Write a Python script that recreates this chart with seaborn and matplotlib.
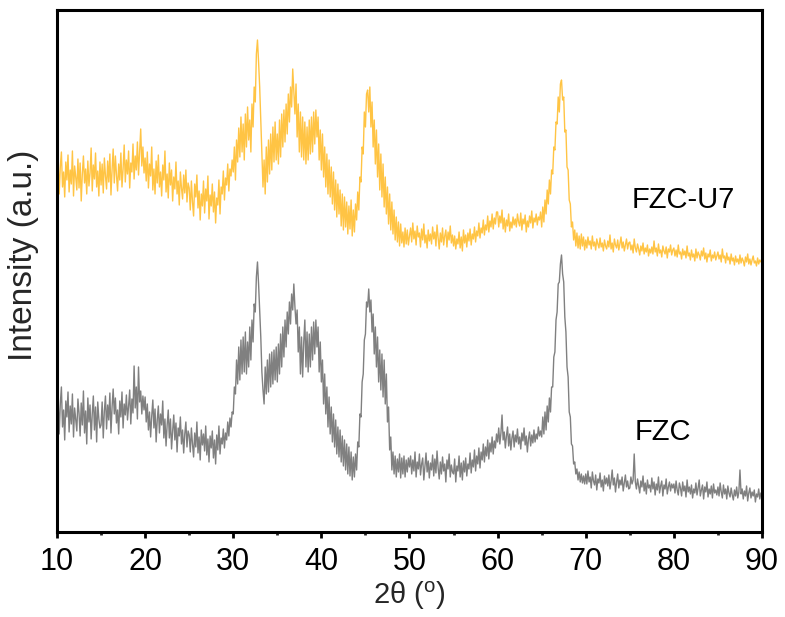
import numpy as np
import pandas as pd
import matplotlib
matplotlib.use("Agg")
import matplotlib.pyplot as plt
from matplotlib.ticker import MultipleLocator
import seaborn as sns

# 2-theta grid (degrees), 0.125 deg step from 10 to 90
two_theta = [10 + 0.125 * i for i in range(641)]

# FZC-U7 pattern (stacked above FZC, a.u.); one row per 5 degrees
fzc_u7 = [
    # 10-15
    350, 372, 338, 365, 380, 345, 360, 335, 370, 352, 377, 340, 362, 348, 381, 336, 366, 355, 342, 373,
    344, 369, 331, 358, 376, 349, 363, 338, 371, 346, 359, 384, 341, 367, 353, 379, 345, 361, 336, 370,
    # 15-20
    347, 368, 339, 374, 356, 343, 371, 350, 378, 337, 362, 383, 349, 376, 357, 341, 368, 352, 379, 345,
    363, 387, 350, 372, 358, 381, 344, 369, 360, 388, 353, 376, 362, 390, 357, 381, 403, 366, 385, 359,
    # 20-25
    374, 351, 380, 344, 368, 356, 385, 342, 363, 338, 371, 349, 377, 345, 360, 336, 367, 352, 381, 340,
    358, 334, 369, 347, 362, 331, 355, 343, 370, 338, 351, 327, 360, 344, 333, 357, 339, 362, 330, 349,
    # 25-30
    344, 322, 351, 330, 316, 348, 335, 357, 324, 341, 312, 338, 326, 351, 319, 343, 331, 356, 313, 337,
    326, 348, 320, 340, 309, 334, 327, 352, 318, 345, 338, 361, 332, 354, 347, 368, 341, 363, 356, 372,
    # 30-35
    360, 385, 352, 392, 370, 404, 375, 415, 380, 408, 372, 418, 385, 425, 392, 412, 380, 428, 405, 445,
    430, 478, 492, 470, 445, 412, 380, 345, 372, 338, 385, 350, 392, 358, 398, 362, 405, 370, 410, 372,
    # 35-40
    398, 368, 412, 375, 418, 385, 422, 390, 428, 398, 438, 410, 445, 425, 463, 440, 418, 448, 395, 428,
    380, 420, 375, 415, 372, 410, 368, 405, 372, 412, 378, 415, 380, 420, 388, 422, 395, 415, 372, 402,
    # 40-45
    362, 398, 355, 385, 345, 378, 338, 372, 335, 365, 328, 360, 322, 352, 315, 348, 318, 342, 306, 338,
    302, 335, 305, 330, 298, 326, 303, 332, 296, 322, 300, 328, 312, 340, 322, 355, 350, 385, 378, 420,
    # 45-50
    405, 438, 442, 420, 445, 405, 430, 385, 412, 368, 402, 355, 388, 342, 378, 335, 368, 325, 355, 318,
    345, 308, 338, 302, 330, 298, 322, 292, 315, 290, 310, 286, 308, 289, 300, 285, 304, 288, 302, 287,
    # 50-55
    296, 304, 290, 309, 293, 301, 287, 306, 295, 299, 285, 303, 292, 308, 289, 297, 284, 302, 291, 298,
    288, 305, 293, 300, 286, 307, 294, 283, 299, 290, 304, 287, 296, 302, 285, 300, 292, 306, 289, 297,
    # 55-60
    286, 296, 283, 293, 288, 300, 284, 295, 281, 302, 289, 297, 285, 299, 291, 303, 287, 298, 293, 305,
    290, 301, 296, 309, 294, 304, 299, 312, 297, 307, 302, 316, 300, 311, 305, 318, 303, 314, 308, 320,
    # 60-65
    320, 305, 316, 309, 322, 303, 314, 300, 312, 306, 318, 301, 310, 304, 315, 307, 313, 305, 318, 310,
    306, 319, 302, 313, 308, 317, 300, 311, 305, 316, 309, 321, 304, 314, 310, 318, 307, 315, 312, 320,
    # 65-70
    305, 325, 310, 332, 318, 342, 328, 352, 338, 362, 358, 385, 382, 410, 408, 435, 420, 448, 452, 432,
    435, 400, 402, 365, 362, 332, 328, 305, 310, 292, 302, 286, 299, 284, 296, 283, 298, 286, 295, 282,
    # 70-75
    292, 284, 295, 287, 291, 283, 296, 286, 290, 282, 293, 288, 284, 294, 285, 289, 281, 292, 286, 283,
    291, 285, 297, 283, 289, 280, 293, 287, 284, 292, 282, 288, 295, 284, 290, 281, 287, 293, 283, 289,
    # 75-80
    290, 282, 287, 279, 293, 284, 280, 288, 283, 277, 286, 281, 289, 278, 284, 280, 287, 276, 283, 279,
    285, 278, 291, 280, 284, 276, 288, 279, 282, 275, 286, 281, 278, 285, 274, 283, 280, 287, 277, 282,
    # 80-85
    284, 276, 282, 275, 287, 278, 280, 273, 283, 277, 281, 274, 286, 276, 279, 272, 282, 275, 278, 271,
    283, 274, 280, 277, 272, 281, 276, 284, 273, 279, 270, 278, 275, 282, 271, 277, 274, 280, 272, 276,
    # 85-90
    280, 273, 277, 270, 283, 274, 276, 269, 279, 272, 275, 268, 278, 271, 274, 267, 276, 270, 273, 268,
    277, 269, 274, 271, 266, 275, 270, 278, 268, 273, 267, 272, 276, 269, 271, 266, 274, 268, 272, 270,
    271,
]

# FZC pattern (a.u.); one row per 5 degrees
fzc = [
    # 10-15
    110, 135, 98, 128, 145, 105, 122, 92, 131, 115, 140, 100, 126, 108, 138, 95, 124, 112, 101, 133,
    119, 96, 129, 107, 141, 99, 121, 88, 134, 110, 127, 93, 118, 136, 102, 125, 90, 130, 113, 104,
    # 15-20
    107, 130, 94, 121, 136, 103, 127, 112, 139, 99, 125, 143, 118, 134, 109, 122, 98, 131, 115, 140,
    104, 128, 117, 137, 112, 126, 142, 108, 133, 119, 166, 124, 145, 113, 165, 130, 141, 118, 136, 122,
    # 20-25
    135, 110, 128, 102, 120, 95, 116, 132, 104, 123, 90, 112, 126, 99, 118, 107, 131, 94, 113, 86,
    107, 122, 94, 113, 83, 101, 117, 92, 109, 80, 104, 96, 115, 88, 102, 79, 98, 110, 85, 101,
    # 25-30
    97, 80, 104, 88, 75, 99, 85, 110, 79, 95, 72, 102, 87, 98, 81, 106, 77, 93, 70, 96,
    84, 101, 74, 92, 68, 97, 82, 106, 78, 94, 88, 103, 84, 99, 92, 110, 96, 114, 105, 120,
    # 30-35
    118, 145, 138, 172, 148, 185, 152, 192, 158, 195, 160, 200, 158, 190, 165, 205, 172, 212, 190, 228,
    220, 255, 270, 248, 222, 195, 160, 142, 128, 165, 138, 172, 140, 178, 145, 180, 148, 182, 152, 185,
    # 35-40
    150, 188, 158, 198, 165, 205, 175, 212, 185, 220, 198, 230, 208, 238, 222, 248, 225, 208, 222, 180,
    205, 158, 195, 155, 190, 212, 165, 200, 160, 198, 165, 205, 172, 210, 178, 212, 185, 205, 160, 190,
    # 40-45
    150, 172, 128, 158, 118, 145, 105, 135, 98, 125, 90, 118, 85, 112, 78, 105, 75, 102, 70, 96,
    66, 92, 62, 88, 58, 85, 56, 80, 52, 75, 55, 78, 62, 90, 85, 118, 115, 150, 158, 192,
    # 45-50
    198, 230, 225, 243, 220, 232, 200, 218, 178, 205, 165, 195, 150, 182, 142, 178, 135, 172, 128, 158,
    110, 125, 82, 95, 62, 80, 58, 76, 55, 73, 60, 78, 54, 74, 58, 76, 55, 72, 60, 74,
    # 50-55
    65, 76, 58, 72, 61, 80, 55, 70, 63, 78, 57, 68, 74, 52, 66, 79, 60, 71, 54, 69,
    62, 77, 56, 73, 59, 81, 64, 53, 70, 58, 75, 61, 68, 50, 72, 63, 78, 55, 67, 60,
    # 55-60
    58, 73, 50, 66, 61, 76, 55, 69, 52, 71, 60, 74, 56, 68, 63, 79, 59, 72, 65, 82,
    61, 76, 68, 84, 64, 80, 72, 88, 70, 85, 76, 92, 73, 89, 80, 95, 78, 91, 84, 98,
    # 60-65
    90, 104, 88, 99, 117, 92, 100, 84, 96, 105, 86, 98, 82, 94, 101, 85, 97, 90, 103, 88,
    95, 83, 99, 91, 104, 87, 96, 80, 93, 100, 86, 97, 89, 102, 90, 98, 93, 105, 96, 101,
    # 65-70
    95, 115, 98, 120, 102, 126, 110, 134, 120, 145, 145, 175, 180, 212, 220, 248, 250, 268, 277, 258,
    250, 215, 200, 165, 155, 120, 115, 88, 86, 68, 70, 58, 63, 52, 60, 50, 58, 49, 56, 48,
    # 70-75
    58, 48, 61, 50, 55, 44, 60, 51, 47, 57, 42, 53, 49, 59, 45, 52, 41, 56, 48, 54,
    46, 57, 43, 51, 62, 47, 54, 40, 50, 58, 44, 52, 47, 55, 41, 49, 57, 45, 51, 43,
    # 75-80
    44, 55, 48, 52, 78, 50, 43, 53, 46, 39, 51, 45, 56, 41, 49, 38, 52, 44, 47, 40,
    54, 43, 50, 37, 48, 42, 55, 39, 46, 51, 36, 47, 43, 53, 38, 45, 50, 41, 48, 44,
    # 80-85
    48, 39, 51, 42, 37, 49, 44, 36, 50, 41, 46, 35, 52, 40, 45, 38, 47, 34, 43, 39,
    49, 37, 44, 52, 36, 42, 47, 33, 45, 40, 50, 35, 43, 38, 46, 34, 48, 39, 42, 37,
    # 85-90
    45, 36, 49, 40, 34, 47, 38, 43, 33, 46, 39, 35, 44, 37, 32, 42, 36, 45, 34, 40,
    62, 38, 43, 33, 41, 36, 46, 31, 39, 44, 34, 40, 36, 42, 30, 38, 35, 43, 33, 39,
    38,
]

series_names = ["FZC-U7", "FZC"]
series_colors = ["#FFC444", "#808080"]
x_ticks = [10, 20, 30, 40, 50, 60, 70, 80, 90]

assert len(fzc_u7) == len(two_theta) and len(fzc) == len(two_theta)

df = pd.DataFrame({
    "two_theta": two_theta * 2,
    "intensity": fzc_u7 + fzc,
    "sample": [series_names[0]] * len(fzc_u7) + [series_names[1]] * len(fzc),
})

sns.set_theme(style="white")
plt.rcParams["font.family"] = ["Liberation Sans", "DejaVu Sans"]
plt.rcParams["mathtext.fontset"] = "custom"
plt.rcParams["mathtext.rm"] = "Liberation Sans"

fig = plt.figure(figsize=(7.85, 6.17), dpi=100)
ax = fig.add_axes([0.0726, 0.1378, 0.8981, 0.846])

sns.lineplot(
    data=df, x="two_theta", y="intensity", hue="sample",
    palette=dict(zip(series_names, series_colors)),
    estimator=None, sort=False, linewidth=1.0, legend=False, ax=ax,
)

ax.set_xlim(10, 90)
ax.set_ylim(0, 522)
ax.set_xticks(x_ticks)
ax.xaxis.set_minor_locator(MultipleLocator(5))
ax.set_yticks([])

for side in ["left", "right", "top", "bottom"]:
    ax.spines[side].set_visible(True)
    ax.spines[side].set_color("black")
    ax.spines[side].set_linewidth(2.2)

ax.tick_params(axis="x", which="major", direction="out", length=4.5, width=2,
               labelsize=22, pad=6, bottom=True, colors="black")
ax.tick_params(axis="x", which="minor", direction="out", length=2.5, width=2,
               bottom=True)

ax.set_xlabel(r"2θ ($\mathregular{^o}$)", fontsize=21, labelpad=2)
ax.set_ylabel("Intensity (a.u.)", fontsize=24)
ax.yaxis.set_label_coords(-0.025, 0.53)

ax.text(75.25, 332, "FZC-U7", fontsize=21, ha="left", va="center", color="black")
ax.text(75.6, 100, "FZC", fontsize=21, ha="left", va="center", color="black")

fig.savefig("out.png", dpi=100)
